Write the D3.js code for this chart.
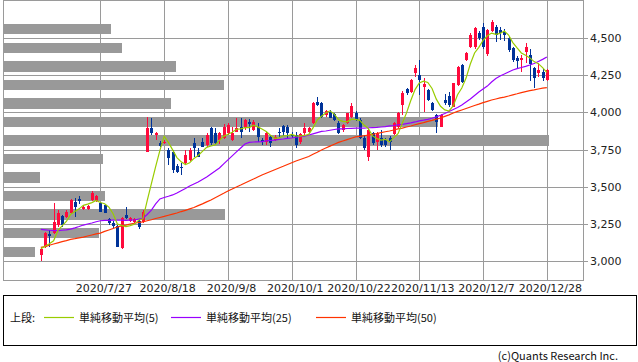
<html>
<head>
  <meta charset="utf-8">
  <style>
    body {
      margin: 0px;
      padding: 0px;
      background-color: #ffffff;
    }
    svg {
      display: block;
    }
    .axisText {
      font-family: "DejaVu Sans", sans-serif;
      font-size: 11px;
      fill: #222;
    }
    .legendText {
      font-family: "Noto Sans CJK JP", sans-serif;
      font-size: 11px;
      fill: #111;
    }
  </style>
</head>
<body>
  <div id="chart"></div>
  <script src="https://cdnjs.cloudflare.com/ajax/libs/d3/7.8.5/d3.min.js"></script>
  <script>
    var dates = [
      "2020/7/3", "2020/7/6", "2020/7/7", "2020/7/8", "2020/7/9", "2020/7/10", "2020/7/13", "2020/7/14", "2020/7/15", "2020/7/16",
      "2020/7/17", "2020/7/20", "2020/7/21", "2020/7/22", "2020/7/27", "2020/7/28", "2020/7/29", "2020/7/30", "2020/7/31", "2020/8/3",
      "2020/8/4", "2020/8/5", "2020/8/6", "2020/8/7", "2020/8/11", "2020/8/12", "2020/8/13", "2020/8/14", "2020/8/17", "2020/8/18",
      "2020/8/19", "2020/8/20", "2020/8/21", "2020/8/24", "2020/8/25", "2020/8/26", "2020/8/27", "2020/8/28", "2020/8/31", "2020/9/1",
      "2020/9/2", "2020/9/3", "2020/9/4", "2020/9/7", "2020/9/8", "2020/9/9", "2020/9/10", "2020/9/11", "2020/9/14", "2020/9/15",
      "2020/9/16", "2020/9/17", "2020/9/18", "2020/9/23", "2020/9/24", "2020/9/25", "2020/9/28", "2020/9/29", "2020/9/30", "2020/10/1",
      "2020/10/2", "2020/10/5", "2020/10/6", "2020/10/7", "2020/10/8", "2020/10/9", "2020/10/12", "2020/10/13", "2020/10/14", "2020/10/15",
      "2020/10/16", "2020/10/19", "2020/10/20", "2020/10/21", "2020/10/22", "2020/10/23", "2020/10/26", "2020/10/27", "2020/10/28", "2020/10/29",
      "2020/10/30", "2020/11/2", "2020/11/4", "2020/11/5", "2020/11/6", "2020/11/9", "2020/11/10", "2020/11/11", "2020/11/12", "2020/11/13",
      "2020/11/16", "2020/11/17", "2020/11/18", "2020/11/19", "2020/11/20", "2020/11/24", "2020/11/25", "2020/11/26", "2020/11/27", "2020/11/30",
      "2020/12/1", "2020/12/2", "2020/12/3", "2020/12/4", "2020/12/7", "2020/12/8", "2020/12/9", "2020/12/10", "2020/12/11", "2020/12/14",
      "2020/12/15", "2020/12/16", "2020/12/17", "2020/12/18", "2020/12/21", "2020/12/22", "2020/12/23", "2020/12/24", "2020/12/25", "2020/12/28"
    ];

    var opens = [
      3040, 3095, 3180, 3185, 3241, 3302, 3295, 3320, 3398, 3415,
      3349, 3351, 3410, 3405, 3392, 3378, 3280, 3255, 3235, 3084,
      3309, 3270, 3264, 3270, 3264, 3735, 3893, 3848, 3792, 3792,
      3747, 3736, 3639, 3635, 3657, 3680, 3792, 3735, 3803, 3780,
      3893, 3860, 3814, 3826, 3860, 3814, 3870, 3904, 3893, 3939,
      3882, 3904, 3812, 3803, 3837, 3814, 3870, 3909, 3904, 3850,
      3848, 3803, 3860, 3870, 3927, 4073, 4062, 3980, 4005, 3990,
      3929, 3882, 3930, 3972, 3995, 3949, 3830, 3700, 3860, 3803,
      3826, 3814, 3826, 3855, 3902, 4050, 4158, 4140, 4264, 4253,
      4170, 4151, 4062, 3983, 3904, 4084, 4110, 4040, 4185, 4320,
      4354, 4444, 4444, 4534, 4575, 4395, 4549, 4578, 4555, 4540,
      4500, 4433, 4370, 4355, 4408, 4390, 4298, 4266, 4275, 4219
    ];
    var highs = [
      3090, 3196, 3208, 3388, 3342, 3309, 3342, 3417, 3421, 3437,
      3376, 3376, 3470, 3445, 3398, 3383, 3291, 3268, 3241, 3293,
      3365, 3295, 3290, 3280, 3342, 3967, 3961, 3870, 3810, 3815,
      3760, 3747, 3650, 3657, 3747, 3760, 3826, 3758, 3826, 3859,
      3904, 3893, 3870, 3925, 3930, 3904, 3961, 3961, 3956, 3956,
      3950, 3927, 3830, 3870, 3848, 3845, 3893, 3915, 3915, 3870,
      3870, 3860, 3927, 3900, 4073, 4106, 4070, 4020, 4015, 3995,
      3940, 3925, 3995, 4062, 4010, 3960, 3850, 3895, 3870, 3870,
      3882, 3830, 3840, 3935, 4005, 4145, 4165, 4225, 4320, 4354,
      4232, 4160, 4070, 3990, 3990, 4122, 4136, 4200, 4315, 4330,
      4405, 4534, 4575, 4550, 4600, 4565, 4625, 4590, 4575, 4560,
      4510, 4440, 4380, 4385, 4466, 4430, 4305, 4332, 4290, 4295
    ];
    var lows = [
      3000, 3085, 3091, 3180, 3226, 3230, 3290, 3316, 3297, 3383,
      3342, 3342, 3405, 3398, 3331, 3324, 3244, 3220, 3091, 3080,
      3280, 3262, 3255, 3215, 3255, 3735, 3848, 3814, 3769, 3785,
      3646, 3590, 3590, 3577, 3650, 3673, 3702, 3700, 3769, 3769,
      3780, 3780, 3790, 3820, 3850, 3805, 3865, 3826, 3885, 3870,
      3875, 3803, 3780, 3780, 3770, 3805, 3835, 3840, 3830, 3825,
      3760, 3790, 3850, 3860, 3922, 4044, 3965, 3972, 3960, 3940,
      3855, 3870, 3925, 3960, 3940, 3820, 3750, 3675, 3780, 3750,
      3770, 3770, 3750, 3850, 3895, 3985, 4120, 4130, 4241, 4118,
      4005, 4075, 4010, 3862, 3900, 4050, 4040, 4035, 4180, 4200,
      4345, 4435, 4430, 4490, 4425, 4380, 4540, 4478, 4490, 4480,
      4410, 4340, 4300, 4270, 4332, 4210, 4163, 4241, 4215, 4210
    ];
    var closes = [
      3078, 3185, 3168, 3264, 3320, 3241, 3331, 3410, 3365, 3401,
      3365, 3369, 3459, 3440, 3331, 3324, 3257, 3235, 3091, 3287,
      3287, 3287, 3280, 3230, 3331, 3893, 3864, 3859, 3774, 3803,
      3691, 3612, 3601, 3630, 3713, 3747, 3758, 3702, 3769, 3848,
      3792, 3792, 3860, 3904, 3916, 3860, 3893, 3870, 3949, 3920,
      3938, 3837, 3803, 3860, 3792, 3832, 3860, 3870, 3860, 3840,
      3780, 3853, 3893, 3893, 4062, 4050, 3972, 4010, 3962, 3949,
      3862, 3916, 3995, 4043, 3949, 3830, 3758, 3882, 3792, 3860,
      3780, 3780, 3800, 3930, 3996, 4129, 4129, 4219, 4298, 4219,
      4190, 4084, 4017, 3938, 3983, 4062, 4050, 4196, 4309, 4207,
      4399, 4523, 4568, 4500, 4440, 4556, 4610, 4523, 4535, 4520,
      4421, 4354, 4345, 4365, 4444, 4330, 4230, 4286, 4230, 4286
    ];

    var ma5 = [
      3082, 3098, 3115, 3135, 3203, 3236, 3265, 3313, 3333, 3350,
      3374, 3382, 3392, 3407, 3393, 3385, 3362, 3317, 3248, 3239,
      3231, 3237, 3246, 3274, 3283, 3404, 3520, 3635, 3744, 3839,
      3798, 3748, 3696, 3667, 3649, 3661, 3690, 3710, 3738, 3765,
      3774, 3781, 3812, 3839, 3853, 3866, 3887, 3889, 3898, 3898,
      3914, 3903, 3889, 3872, 3846, 3825, 3829, 3843, 3843, 3852,
      3842, 3841, 3845, 3852, 3896, 3950, 3974, 3997, 4011, 3989,
      3951, 3940, 3937, 3953, 3953, 3947, 3915, 3892, 3842, 3824,
      3814, 3819, 3802, 3830, 3857, 3927, 3997, 4081, 4154, 4199,
      4211, 4202, 4162, 4090, 4042, 4017, 4010, 4046, 4120, 4165,
      4232, 4327, 4401, 4439, 4486, 4517, 4535, 4526, 4533, 4549,
      4522, 4471, 4435, 4401, 4386, 4368, 4343, 4329, 4302, 4270
    ];
    var ma25 = [
      3212, 3209, 3206, 3203, 3204, 3206, 3208, 3214, 3222, 3231,
      3241, 3248, 3255, 3263, 3270, 3272, 3273, 3274, 3275, 3274,
      3273, 3274, 3275, 3281, 3287, 3312, 3342, 3383, 3417, 3427,
      3435, 3444, 3457, 3472, 3487, 3504, 3518, 3531, 3548, 3565,
      3585, 3605, 3626, 3653, 3680, 3707, 3734, 3760, 3787, 3798,
      3801, 3802, 3804, 3808, 3811, 3814, 3818, 3821, 3825, 3828,
      3833, 3837, 3841, 3848, 3856, 3864, 3872, 3875, 3880, 3885,
      3889, 3890, 3892, 3893, 3894, 3895, 3895, 3897, 3898, 3899,
      3902, 3905, 3909, 3912, 3916, 3920, 3925, 3930, 3936, 3943,
      3948, 3954, 3961, 3970, 3981, 3993, 4007, 4020, 4034, 4050,
      4071, 4091, 4114, 4138, 4158, 4178, 4205, 4229, 4246, 4259,
      4273, 4286, 4296, 4303, 4311, 4320, 4330, 4344, 4358, 4374
    ];
    var ma50 = [
      3090, 3096, 3105, 3113, 3121, 3129, 3136, 3144, 3149, 3155,
      3160, 3167, 3174, 3181, 3187, 3198, 3208, 3218, 3228, 3235,
      3241, 3248, 3253, 3258, 3262, 3270, 3277, 3285, 3292, 3299,
      3307, 3315, 3322, 3332, 3340, 3350, 3359, 3372, 3384, 3397,
      3410, 3425, 3440, 3455, 3471, 3484, 3498, 3511, 3525, 3538,
      3551, 3565, 3578, 3590, 3602, 3614, 3626, 3637, 3649, 3661,
      3673, 3683, 3693, 3703, 3718, 3732, 3747, 3760, 3773, 3786,
      3798, 3808, 3817, 3826, 3835, 3839, 3843, 3847, 3852, 3858,
      3864, 3870, 3875, 3882, 3889, 3895, 3902, 3909, 3917, 3925,
      3932, 3940, 3947, 3955, 3963, 3974, 3984, 3996, 4007, 4017,
      4027, 4037, 4047, 4056, 4066, 4075, 4084, 4091, 4098, 4104,
      4111, 4119, 4126, 4134, 4141, 4147, 4152, 4158, 4164, 4168
    ];

    // price bands (lower bound, step 125) and traded volume in each
    var bandLows = [4500, 4375, 4250, 4125, 4000, 3875, 3750, 3625, 3500, 3375, 3250, 3125, 3000];
    var bandVolumes = [1080, 1190, 1730, 2210, 1680, 4350, 5460, 1000, 370, 1020, 2220, 960, 320];

    var yTicks = [3000, 3250, 3500, 3750, 4000, 4250, 4500];
    var xTickDates = ["2020/7/27", "2020/8/18", "2020/9/8", "2020/10/1", "2020/10/22", "2020/11/13", "2020/12/7", "2020/12/28"];

    var legendPrefix = "上段:";
    var legendNames = ["単純移動平均(5)", "単純移動平均(25)", "単純移動平均(50)"];
    var legendColors = ["#99cc00", "#9900ff", "#ff3300"];
    var copyright = "(c)Quants Research Inc.";

    var svgWidth = 638,
      svgHeight = 362,
      plotLeft = 3,
      plotRight = 583,
      plotTop = 1,
      plotBottom = 280,
      upColor = "#ff0a3c",
      downColor = "#003399",
      gridColor = "#9a9a9a";

    var svg = d3.select("#chart").append("svg")
      .attr("width", svgWidth)
      .attr("height", svgHeight);

    var x = d3.scaleLinear().domain([-8.9, 127.5]).range([plotLeft, plotRight]);
    var y = d3.scaleLinear().domain([3000, 4500]).range([260.8, 38.3]);
    var vx = d3.scaleLinear().domain([0, 5800]).range([plotLeft, plotRight]);

    svg.append("clipPath").attr("id", "plotClip")
      .append("rect")
      .attr("x", plotLeft).attr("y", plotTop)
      .attr("width", plotRight - plotLeft).attr("height", plotBottom - plotTop);

    // grid
    var grid = svg.append("g").attr("shape-rendering", "crispEdges");
    grid.selectAll(".hgrid")
      .data(yTicks)
      .enter()
      .append("line")
      .attr("x1", plotLeft)
      .attr("x2", plotRight + 5)
      .attr("y1", function(d) { return Math.round(y(d)) + 0.5; })
      .attr("y2", function(d) { return Math.round(y(d)) + 0.5; })
      .attr("stroke", gridColor);

    grid.selectAll(".vgrid")
      .data(xTickDates)
      .enter()
      .append("line")
      .attr("x1", function(d) { return Math.round(x(dates.indexOf(d))) + 0.5; })
      .attr("x2", function(d) { return Math.round(x(dates.indexOf(d))) + 0.5; })
      .attr("y1", plotTop)
      .attr("y2", plotBottom)
      .attr("stroke", gridColor);

    var plot = svg.append("g").attr("clip-path", "url(#plotClip)");

    // volume by price
    plot.append("g").attr("shape-rendering", "crispEdges")
      .selectAll("rect")
      .data(bandLows)
      .enter()
      .append("rect")
      .attr("x", plotLeft)
      .attr("y", function(d) { return Math.round(y(d + 96)); })
      .attr("width", function(d, i) { return vx(bandVolumes[i]) - plotLeft; })
      .attr("height", function(d) { return Math.round(y(d + 26)) - Math.round(y(d + 96)); })
      .attr("fill", "#999999");

    // candles
    var candles = plot.append("g").attr("shape-rendering", "crispEdges")
      .selectAll("g")
      .data(dates)
      .enter()
      .append("g");

    candles.append("line")
      .attr("x1", function(d, i) { return Math.round(x(i)) + 0.5; })
      .attr("x2", function(d, i) { return Math.round(x(i)) + 0.5; })
      .attr("y1", function(d, i) { return y(highs[i]); })
      .attr("y2", function(d, i) { return y(lows[i]); })
      .attr("stroke", function(d, i) { return closes[i] >= opens[i] ? upColor : downColor; });

    candles.append("rect")
      .attr("x", function(d, i) { return Math.round(x(i)) - 1; })
      .attr("y", function(d, i) { return y(Math.max(opens[i], closes[i])); })
      .attr("width", 3)
      .attr("height", function(d, i) {
        return Math.max(1, Math.abs(y(opens[i]) - y(closes[i])));
      })
      .attr("fill", function(d, i) { return closes[i] >= opens[i] ? upColor : downColor; });

    // moving averages
    var maLine = d3.line()
      .x(function(d, i) { return x(i); })
      .y(function(d) { return y(d); });

    [ma50, ma25, ma5].forEach(function(series, k) {
      plot.append("path")
        .datum(series)
        .attr("d", maLine)
        .attr("fill", "none")
        .attr("stroke", legendColors[2 - k])
        .attr("stroke-width", 1.2);
    });

    // frame
    svg.append("rect")
      .attr("x", plotLeft + 0.5)
      .attr("y", plotTop - 0.5)
      .attr("width", plotRight - plotLeft)
      .attr("height", plotBottom - plotTop + 0.5)
      .attr("fill", "none")
      .attr("stroke", gridColor)
      .attr("shape-rendering", "crispEdges");

    // axis labels
    svg.selectAll(".yLabel")
      .data(yTicks)
      .enter()
      .append("text")
      .attr("class", "axisText")
      .attr("x", 590)
      .attr("y", function(d) { return y(d) + 4; })
      .text(function(d) { return d3.format(",")(d); });

    svg.selectAll(".xLabel")
      .data(xTickDates)
      .enter()
      .append("text")
      .attr("class", "axisText")
      .attr("text-anchor", "middle")
      .attr("x", function(d) { return x(dates.indexOf(d)) + 3.5; })
      .attr("y", 292)
      .text(function(d) { return d; });

    // legend
    var legend = svg.append("g");
    legend.append("rect")
      .attr("x", 3.5)
      .attr("y", 295.5)
      .attr("width", 633)
      .attr("height", 50)
      .attr("fill", "none")
      .attr("stroke", "#000")
      .attr("shape-rendering", "crispEdges");

    legend.append("text")
      .attr("class", "legendText")
      .attr("x", 10)
      .attr("y", 322)
      .text(legendPrefix);

    var legendX = [44, 171, 316];
    legendNames.forEach(function(name, i) {
      legend.append("line")
        .attr("x1", legendX[i])
        .attr("x2", legendX[i] + 30)
        .attr("y1", 317.5)
        .attr("y2", 317.5)
        .attr("stroke", legendColors[i])
        .attr("stroke-width", 1.2);
      legend.append("text")
        .attr("class", "legendText")
        .attr("x", legendX[i] + 35)
        .attr("y", 322)
        .text(name);
    });

    svg.append("text")
      .attr("class", "legendText")
      .attr("text-anchor", "end")
      .attr("x", 618)
      .attr("y", 360)
      .attr("fill", "#333")
      .text(copyright);
  </script>
</body>
</html>
